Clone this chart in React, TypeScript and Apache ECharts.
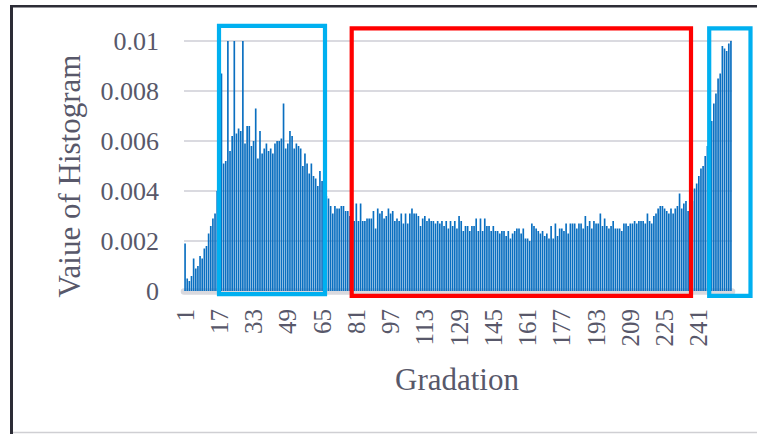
import { useEffect, useRef } from "react";
import * as echarts from "echarts";

// Normalised histogram value for each gradation level (1..256), by tonal range
const shadowLevels = [
  0.0019, 0.0005, 0.0004, 0.0006, 0.0013, 0.0009, 0.001, 0.0014, 0.0013, 0.0017,
  0.0018, 0.0023, 0.0026, 0.0029, 0.0031, 0.004, 0.005,
]; // 1-17

const darkLevels = [
  0.0087, 0.0051, 0.0052, 0.01, 0.0056, 0.0062, 0.01, 0.0063, 0.0065, 0.0064,
  0.01, 0.0059, 0.0066, 0.0066, 0.0058, 0.006, 0.0073, 0.0053, 0.0064, 0.0055,
  0.0057, 0.0059, 0.0056, 0.0057, 0.0055, 0.0059, 0.006, 0.006, 0.0061, 0.0075,
  0.0057, 0.0059, 0.0064, 0.0062, 0.0057, 0.0059, 0.0058, 0.0057, 0.005, 0.0055,
  0.0051, 0.0047, 0.0051, 0.0046, 0.0045, 0.0042, 0.0048, 0.0044, 0.0046,
]; // 18-66

const lowMidLevels = [
  0.0038, 0.0037, 0.0034, 0.0031, 0.0034, 0.0033, 0.0033, 0.0034, 0.0034, 0.0032,
  0.0032, 0.003, 0.0031, 0.0028, 0.0035, 0.0028, 0.0035, 0.0028, 0.0028, 0.0029,
  0.0029, 0.0029, 0.0032, 0.0025, 0.0033, 0.0031, 0.0032, 0.0029, 0.003, 0.0033,
  0.0031, 0.0032, 0.0028, 0.0029, 0.0028, 0.0031, 0.0027, 0.0031, 0.0027, 0.0031,
  0.0033, 0.0031, 0.0031, 0.003, 0.0026, 0.0029, 0.003, 0.0028, 0.0029, 0.0028,
  0.0028, 0.0027, 0.0028, 0.0027, 0.0028, 0.0026, 0.0028, 0.0025, 0.0028, 0.0026,
  0.0028, 0.0025, 0.003, 0.0028, 0.0024, 0.0026, 0.0026, 0.0024, 0.0026, 0.0026,
  0.0029, 0.0024, 0.0029, 0.0024, 0.0029, 0.0026, 0.0026, 0.0024, 0.0026, 0.0024,
  0.0024, 0.0023, 0.0024, 0.0024, 0.0022, 0.0024, 0.0021, 0.0023, 0.0024, 0.0025,
  0.0025, 0.0023, 0.0025, 0.0021, 0.0021, 0.002,
]; // 67-162

const highMidLevels = [
  0.0027, 0.0026, 0.0025, 0.0024, 0.0023, 0.0024, 0.0022, 0.0023, 0.0021, 0.0026,
  0.0021, 0.0027, 0.0022, 0.0025, 0.0025, 0.0024, 0.0027, 0.0023, 0.0027, 0.0027,
  0.0027, 0.0025, 0.0027, 0.0027, 0.0025, 0.003, 0.0026, 0.0028, 0.0025, 0.0028,
  0.0027, 0.0027, 0.0031, 0.0026, 0.0029, 0.0026, 0.0025, 0.0026, 0.0028, 0.0025,
  0.0025, 0.0025, 0.0024, 0.0027, 0.0027, 0.0026, 0.0027, 0.0027, 0.0028, 0.0027,
  0.0028, 0.0028, 0.0028, 0.0027, 0.0031, 0.0028, 0.0027, 0.003, 0.0031, 0.0033,
  0.0034, 0.0034, 0.0033, 0.0032, 0.0031, 0.0033, 0.0031, 0.0033, 0.0034, 0.0039,
  0.0033, 0.0035, 0.0036, 0.0032, 0.0035, 0.0036,
]; // 163-238

const highlightLevels = [
  0.0041, 0.0043, 0.0046, 0.0049, 0.005, 0.0054, 0.0058, 0.0063, 0.0068, 0.0075,
  0.0079, 0.0085, 0.0087, 0.0098, 0.0097, 0.0096, 0.0099, 0.01,
]; // 239-256

const histogramValues = [
  ...shadowLevels,
  ...darkLevels,
  ...lowMidLevels,
  ...highMidLevels,
  ...highlightLevels,
];

const gradations = histogramValues.map((_, i) => String(i + 1));

const xTickLabels = ["1", "17", "33", "49", "65", "81", "97", "113", "129", "145", "161", "177", "193", "209", "225", "241"];
const yTickLabels = ["0", "0.002", "0.004", "0.006", "0.008", "0.01"];

const SERIF = "'Liberation Serif', 'Times New Roman', serif";
const TEXT = "#58586a";

export default function App() {
  const ref = useRef<HTMLDivElement>(null);

  useEffect(() => {
    if (!ref.current) return;
    const chart = echarts.init(ref.current, undefined, { renderer: "svg" });
    chart.setOption({
      animation: false,
      backgroundColor: "#ffffff",
      grid: { left: 184, top: 41, width: 548, height: 250, containLabel: false },
      xAxis: {
        type: "category",
        data: gradations,
        offset: 4,
        axisLine: { show: true, lineStyle: { color: "#d9d9de", width: 6.5 } },
        axisTick: { show: false },
        axisLabel: {
          interval: (_: number, value: string) => xTickLabels.includes(value),
          rotate: 90,
          margin: 14,
          fontFamily: SERIF,
          fontSize: 25,
          color: TEXT,
        },
        splitLine: { show: false },
      },
      yAxis: {
        type: "value",
        min: 0,
        max: 0.01,
        interval: 0.002,
        axisLine: { show: false },
        axisTick: { show: false },
        axisLabel: {
          margin: 25,
          fontFamily: SERIF,
          fontSize: 26,
          color: TEXT,
          formatter: (v: number) => yTickLabels[Math.round(v / 0.002)],
        },
        splitLine: { lineStyle: { color: "#dadae0", width: 2 } },
      },
      series: [
        {
          type: "bar",
          data: histogramValues,
          barCategoryGap: "22%",
          itemStyle: { color: "#0a6fc0" },
          z: 2,
        },
      ],
      graphic: [
        // frame
        { type: "line", shape: { x1: 10, y1: 6.3, x2: 757, y2: 6.3 }, style: { stroke: "#2c2c36", lineWidth: 2.6 }, z: 100 },
        { type: "line", shape: { x1: 11.5, y1: 5, x2: 11.5, y2: 434 }, style: { stroke: "#2c2c36", lineWidth: 3 }, z: 100 },
        { type: "line", shape: { x1: 13, y1: 432.5, x2: 757, y2: 432.5 }, style: { stroke: "#cfcfd3", lineWidth: 1.6 }, z: 100 },
        // axis titles
        {
          type: "text",
          x: 69,
          y: 176,
          rotation: Math.PI / 2,
          style: {
            text: "Vaiue of Histogram",
            font: `31px ${SERIF}`,
            fill: TEXT,
            align: "center",
            verticalAlign: "middle",
          },
          z: 100,
        },
        {
          type: "text",
          x: 457,
          y: 379,
          style: {
            text: "Gradation",
            font: `31px ${SERIF}`,
            fill: TEXT,
            align: "center",
            verticalAlign: "middle",
          },
          z: 100,
        },
        // highlighted regions
        { type: "rect", shape: { x: 219, y: 25.8, width: 106, height: 268.4 }, style: { fill: "none", stroke: "#00b0f0", lineWidth: 4.2 }, z: 100 },
        { type: "rect", shape: { x: 351.7, y: 28.3, width: 339.3, height: 267.5 }, style: { fill: "none", stroke: "#ff0000", lineWidth: 4.2 }, z: 100 },
        { type: "rect", shape: { x: 709.2, y: 28.3, width: 41.3, height: 267.5 }, style: { fill: "none", stroke: "#00b0f0", lineWidth: 4.2 }, z: 100 },
      ],
    });
    return () => chart.dispose();
  }, []);

  return (
    <div
      ref={ref}
      style={{ position: "fixed", left: 0, top: 0, width: 757, height: 434, background: "#fff" }}
    />
  );
}
